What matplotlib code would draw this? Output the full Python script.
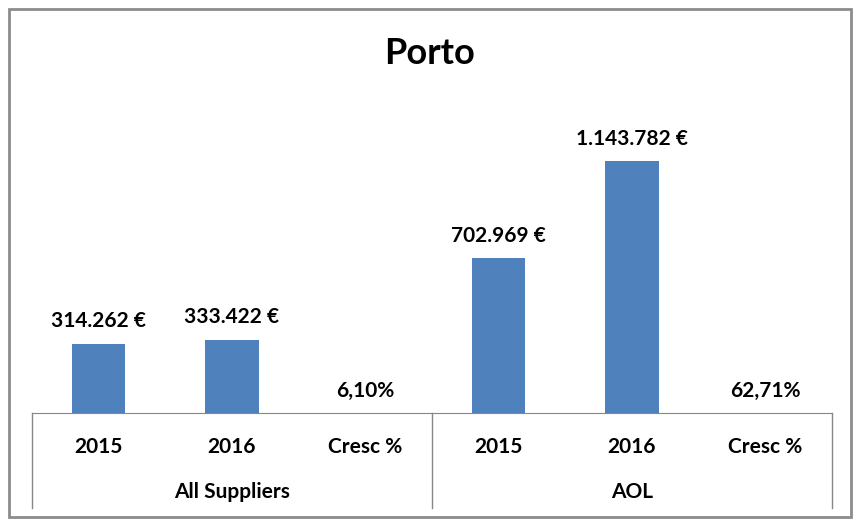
import matplotlib.pyplot as plt
import matplotlib.transforms as mtransforms
from matplotlib.patches import Rectangle

plt.rcParams['font.family'] = ['Lato', 'DejaVu Sans']

groups = ["All Suppliers", "AOL"]
categories = ["2015", "2016", "Cresc %", "2015", "2016", "Cresc %"]
values = [314262, 333422, 0.0610, 702969, 1143782, 0.6271]
is_pct = [False, False, True, False, False, True]

bar_color = "#4F81BD"
line_color = "#868686"


def fmt_label(v, pct):
    if pct:
        return f"{v * 100:.2f}%".replace(".", ",")
    return f"{v:,.0f} €".replace(",", ".")


def make_figure():
    fig = plt.figure(figsize=(8.54, 5.2), dpi=100)
    ax = fig.add_axes([32 / 854, 107 / 520, 800 / 854, 308 / 520])
    # outer chart border
    fig.patches.append(Rectangle(
        (9 / 854, 3 / 520), 842 / 854, 508 / 520, transform=fig.transFigure,
        fill=False, edgecolor="#8C8C8C", linewidth=2
    ))
    return fig, ax


def add_bars(ax):
    x = range(len(values))
    ax.bar(x, values, width=0.4, color=bar_color)
    for xi, v, p in zip(x, values, is_pct):
        ax.annotate(
            fmt_label(v, p), (xi, v), xytext=(0, 9), textcoords="offset points",
            ha="center", va="bottom", fontsize=15, fontweight="bold"
        )


def setup_axes(ax):
    ax.set_xlim(-0.5, len(values) - 0.5)
    ax.set_ylim(0, 1.4e6)
    for s in ["top", "right", "left"]:
        ax.spines[s].set_visible(False)
    ax.spines["bottom"].set_color(line_color)
    ax.set_yticks([])
    ax.set_xticks(range(len(categories)))
    ax.set_xticklabels(categories, fontsize=15, fontweight="bold")
    ax.tick_params(axis="x", length=0, pad=17)

    trans = mtransforms.blended_transform_factory(ax.transData, ax.transAxes)
    n = len(categories) // len(groups)
    for b in [-0.5, n - 0.5, len(categories) - 0.5]:
        ax.plot([b, b], [0, -0.308], color=line_color, lw=1,
                transform=trans, clip_on=False)
    for i, g in enumerate(groups):
        ax.text(i * n + (n - 1) / 2, -0.255, g, transform=trans,
                ha="center", va="center", fontsize=15, fontweight="bold")


def add_title(fig):
    fig.text(0.503, 0.897, "Porto", ha="center", va="center",
             fontsize=26, fontweight="bold")


def entry_point():
    fig, ax = make_figure()
    add_bars(ax)
    setup_axes(ax)
    add_title(fig)
    fig.savefig("out.png", dpi=100)


if __name__ == "__main__":
    entry_point()
